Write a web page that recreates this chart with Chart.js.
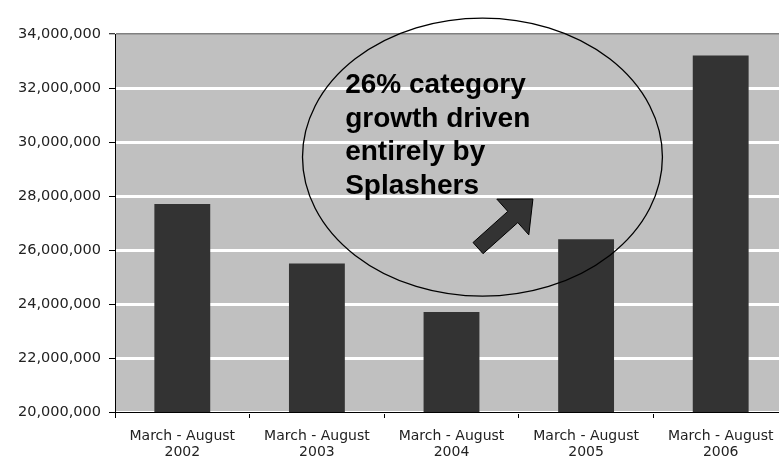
<!DOCTYPE html>
<html>
<head>
<meta charset="utf-8">
<script src="https://cdn.jsdelivr.net/npm/chart.js@4.4.1/dist/chart.umd.min.js"></script>
<style>
    html, body { margin: 0; padding: 0; background: #fff; overflow: hidden; }
    #wrap { width: 779px; height: 461px; overflow: hidden; }
</style>
</head>
<body>
<div id="wrap">
    <canvas id="salesChart" width="800" height="461"></canvas>
</div>
<script>
// ============================================
// Data
// ============================================
const periods = ["2002", "2003", "2004", "2005", "2006"];
const periodLabel = "March - August";
const categorySales = [27700000, 25500000, 23700000, 26400000, 33200000];
const yTicks = [20000000, 22000000, 24000000, 26000000, 28000000, 30000000, 32000000, 34000000];

// callout text, placed in data units (x = category index, y = value)
const calloutLines = ["26% category", "growth driven", "entirely by", "Splashers"];
const calloutAnchor = { x: 1.21, y: 31810000 };
const ellipseCenter = { x: 2.23, y: 29440000 };
const ellipseRadius = { x: 1.337, y: 5150000 };
const arrowTip = { x: 2.605, y: 27890000 };
const arrowTail = { x: 2.197, y: 26070000 };

// ============================================
// Plugin: plot background + callout (ellipse, text, arrow)
// ============================================
const calloutPlugin = {
    id: "callout",
    beforeDraw(chart) {
        const { ctx, chartArea: a } = chart;
        ctx.save();
        ctx.fillStyle = "#C0C0C0";
        ctx.fillRect(a.left, a.top, a.right - a.left, a.bottom - a.top);
        ctx.restore();
    },
    afterDatasetsDraw(chart) {
        const { ctx } = chart;
        const xs = chart.scales.x;
        const ys = chart.scales.y;
        ctx.save();

        // ellipse
        const cx = xs.getPixelForValue(ellipseCenter.x);
        const cy = ys.getPixelForValue(ellipseCenter.y);
        const rx = xs.getPixelForValue(ellipseCenter.x + ellipseRadius.x) - cx;
        const ry = cy - ys.getPixelForValue(ellipseCenter.y + ellipseRadius.y);
        ctx.beginPath();
        ctx.ellipse(cx, cy, rx, ry, 0, 0, Math.PI * 2);
        ctx.lineWidth = 1.3;
        ctx.strokeStyle = "#000";
        ctx.stroke();

        // text
        ctx.fillStyle = "#000";
        ctx.font = "bold 28px 'Liberation Sans', Arial, sans-serif";
        ctx.textBaseline = "alphabetic";
        const tx = xs.getPixelForValue(calloutAnchor.x);
        const ty = ys.getPixelForValue(calloutAnchor.y);
        calloutLines.forEach((line, i) => ctx.fillText(line, tx, ty + i * 33.6));

        // arrow
        const px = xs.getPixelForValue(arrowTip.x);
        const py = ys.getPixelForValue(arrowTip.y);
        const qx = xs.getPixelForValue(arrowTail.x);
        const qy = ys.getPixelForValue(arrowTail.y);
        const len = Math.hypot(px - qx, py - qy);
        const ux = (px - qx) / len, uy = (py - qy) / len;
        const nx = -uy, ny = ux;
        const shaft = 7.5, head = 24, headLen = 27;
        const bx = px - ux * headLen, by = py - uy * headLen;
        ctx.beginPath();
        ctx.moveTo(qx + nx * shaft, qy + ny * shaft);
        ctx.lineTo(bx + nx * shaft, by + ny * shaft);
        ctx.lineTo(bx + nx * head, by + ny * head);
        ctx.lineTo(px, py);
        ctx.lineTo(bx - nx * head, by - ny * head);
        ctx.lineTo(bx - nx * shaft, by - ny * shaft);
        ctx.lineTo(qx - nx * shaft, qy - ny * shaft);
        ctx.closePath();
        ctx.fillStyle = "#333333";
        ctx.fill();
        ctx.lineWidth = 1;
        ctx.strokeStyle = "#000";
        ctx.stroke();

        ctx.restore();
    },
};

// ============================================
// Chart
// ============================================
const ctx = document.getElementById("salesChart").getContext("2d");
new Chart(ctx, {
    type: "bar",
    data: {
        labels: periods.map((p) => [periodLabel, p]),
        datasets: [
            {
                data: categorySales,
                backgroundColor: "#333333",
                borderWidth: 0,
                categoryPercentage: 1,
                barPercentage: 0.415,
            },
        ],
    },
    options: {
        responsive: false,
        animation: false,
        layout: { padding: { top: 34, right: 12, left: 0, bottom: 0 } },
        plugins: {
            legend: { display: false },
            tooltip: { enabled: false },
        },
        scales: {
            x: {
                afterFit: (s) => { s.height = 49; },
                grid: {
                    offset: true,
                    drawOnChartArea: false,
                    tickLength: 6,
                    tickColor: "#000",
                },
                border: { color: "#000", width: 1 },
                ticks: {
                    color: "#222",
                    padding: 10,
                    font: { family: "'DejaVu Sans', sans-serif", size: 14, lineHeight: 1.15 },
                },
            },
            y: {
                min: 20000000,
                max: 34000000,
                afterFit: (s) => { s.width = 115; },
                afterBuildTicks: (s) => { s.ticks = yTicks.map((v) => ({ value: v })); },
                grid: {
                    color: (c) => (c.tick && c.tick.value === 34000000 ? "#808080" : "#FFFFFF"),
                    lineWidth: (c) => (c.tick && c.tick.value === 34000000 ? 1.5 : 3),
                    tickLength: 6,
                    tickColor: "#000",
                    tickWidth: 1,
                },
                border: { color: "#000", width: 1 },
                ticks: {
                    color: "#222",
                    padding: 8,
                    font: { family: "'DejaVu Sans', sans-serif", size: 14.5 },
                    callback: (v) => v.toLocaleString("en-US"),
                },
            },
        },
    },
    plugins: [calloutPlugin],
});
</script>
</body>
</html>
